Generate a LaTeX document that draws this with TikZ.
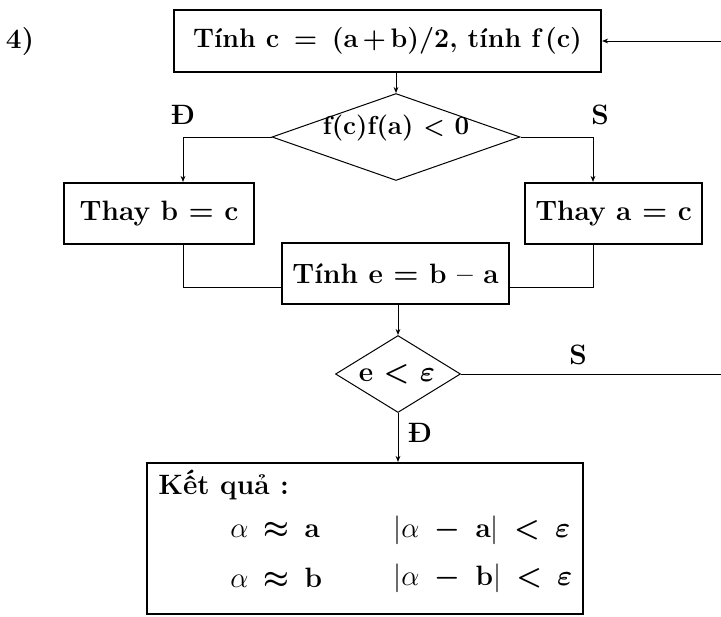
\documentclass[tikz,border=0pt]{standalone}
\usepackage{bm}
\usetikzlibrary{shapes.geometric,arrows.meta}
\begin{document}
\begin{tikzpicture}[x=0.5pt,y=-0.5pt,
  txt/.style={font=\fontsize{14}{16}\selectfont\bfseries, inner sep=0pt},
  box/.style={txt, draw, line width=1.1pt, rectangle},
  dia/.style={draw, line width=0.5pt, diamond, inner sep=0pt},
  conn/.style={line width=0.5pt},
  arr/.style={conn, -{Stealth[length=3pt,width=2.4pt]}},
]
\useasboundingbox (0,0) rectangle (721,616);
\node[txt] (n4) at (20,42) {4)};
\node[box, minimum width=213.5pt, minimum height=31pt] (t) at (387.5,41) {{\fontsize{13.4}{16}\selectfont Tính c\, =\, (a\,+\,b)/2, tính f\,(c)}};
\node[dia, minimum width=124pt, minimum height=43.5pt] (d1) at (396,137) {};
\node[txt] (d1t) at (396,128) {{\fontsize{13}{16}\selectfont f(c)f(a)\ {\boldmath$<$}\ 0}};
\node[box, minimum width=95pt, minimum height=30.5pt] (lb) at (159,213.5) {Thay b {\boldmath$=$} c};
\node[box, minimum width=88.5pt, minimum height=30.5pt] (rb) at (613.5,213.5) {Thay a {\boldmath$=$} c};
\node[box, minimum width=113.5pt, minimum height=30.5pt] (mb) at (395.5,273.5) {Tính e {\boldmath$=$} b -- a};
\node[dia, minimum width=62.5pt, minimum height=38.5pt] (d2) at (398,374) {};
\node[txt] (d2t) at (397,374) {e {\boldmath$<$} {\boldmath$\varepsilon$}};
\node[box, minimum width=218pt, minimum height=75.5pt] (res) at (365,538.5) {};
\node[txt, anchor=west] (kq) at (158,485) {Kết quả :};
\node[txt, anchor=west] (r1a) at (230,530) {$\alpha$\ \,{\boldmath$\approx$}\ \,a};
\node[txt, anchor=west] (r1b) at (393,530) {$|\alpha$\ \,{\boldmath$-$}\ \,a$|$\ \,{\boldmath$<$}\ \,{\boldmath$\varepsilon$}};
\node[txt, anchor=west] (r2a) at (230,578) {$\alpha$\ \,{\boldmath$\approx$}\ \,b};
\node[txt, anchor=west] (r2b) at (393,578) {$|\alpha$\ \,{\boldmath$-$}\ \,b$|$\ \,{\boldmath$<$}\ \,{\boldmath$\varepsilon$}};
\node[txt] (lD1) at (183,115) {Đ};
\node[txt] (lS1) at (600,115) {S};
\node[txt] (lS2) at (578,355) {S};
\node[txt] (lD2) at (420,433) {Đ};
\coordinate (c1) at (183,137);
\coordinate (c2) at (593,137);
\coordinate (j1) at (183,287);
\coordinate (j2) at (593,287);
\coordinate (e1) at (722,374);
\coordinate (e2) at (722,41);
\draw[arr] (d1.north |- t.south) -- (d1.north);
\draw[arr] (d1.west) -- (c1) -- (c1 |- lb.north);
\draw[arr] (d1.east) -- (c2) -- (c2 |- rb.north);
\draw[conn] (j1 |- lb.south) -- (j1) -- (j1 -| mb.west);
\draw[conn] (j2 |- rb.south) -- (j2) -- (j2 -| mb.east);
\draw[arr] (d2.north |- mb.south) -- (d2.north);
\draw[arr] (d2.east) -- (e1) -- (e2) -- (t.east);
\draw[arr] (d2.south) -- (d2.south |- res.north);
\end{tikzpicture}
\end{document}
